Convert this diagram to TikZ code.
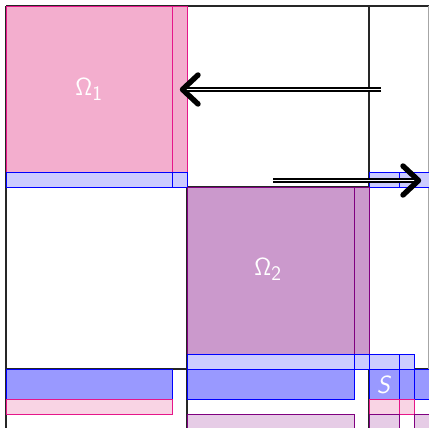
\documentclass[tikz,border=0pt]{standalone}
\definecolor{pinkfill}{HTML}{F3AECE}
\definecolor{pinkline}{HTML}{E6168A}
\definecolor{pinklight}{HTML}{F9D4E4}
\definecolor{purplefill}{HTML}{CB99CC}
\definecolor{purpleline}{HTML}{800080}
\definecolor{purplelight}{HTML}{E6CCE6}
\definecolor{bluelight}{HTML}{CCCCFF}
\definecolor{bluedark}{HTML}{9999FF}
\definecolor{blueline}{HTML}{0000FF}
\tikzset{
  gridline/.style={line width=1.2pt, draw=black!85},
  edgeline/.style={line width=0.8pt, draw=black!35},
  pinkbox/.style={fill=pinkfill, draw=pinkline, line width=0.9pt},
  pinkedge/.style={draw=pinkline, line width=0.9pt},
  pinkstrip/.style={fill=pinklight, draw=pinkline, line width=0.9pt},
  purplebox/.style={fill=purplefill, draw=purpleline, line width=0.9pt},
  purpleedge/.style={draw=purpleline, line width=0.9pt},
  purplestrip/.style={fill=purplelight, draw=purpleline, line width=0.9pt},
  lightstrip/.style={fill=bluelight, draw=blueline, line width=0.9pt},
  darkstrip/.style={fill=bluedark, draw=blueline, line width=0.9pt},
  lbl/.style={text=white, inner sep=0pt, font=\Huge},
  dbl/.style={draw=black, line width=1.2pt, double=white, double distance=1.8pt},
  head/.style={draw=black, line width=5.4pt, line cap=round, line join=round},
}
\begin{document}
\begin{tikzpicture}[x=1pt,y=-1pt]
\useasboundingbox (0,0) rectangle (429,428);
\clip (0,0) rectangle (429,428);

% block grid
\draw[gridline] (6,6) -- (6,440) (187,6) -- (187,440) (369,6) -- (369,440)
                (6,6) -- (440,6) (6,187) -- (440,187) (6,369) -- (440,369);
\draw[edgeline] (428.3,6) -- (428.3,369);

% first subdomain with its overlap strips
\draw[pinkbox] (6,6) rectangle (187,172);
\draw[pinkedge] (172,6) -- (172,172);
\draw[lightstrip] (6,172) rectangle (172,187);
\draw[lightstrip] (172,172) rectangle (187,187);
\draw[lightstrip] (369,172) rectangle (399,187);
\draw[lightstrip] (399,172) rectangle (440,187);

% second subdomain with its overlap strips
\draw[purplebox] (187,187) rectangle (369,354);
\draw[purpleedge] (354,187) -- (354,354);
\draw[lightstrip] (187,354) rectangle (354,369);
\draw[lightstrip] (354,354) rectangle (369,369);
\draw[lightstrip] (369,354) rectangle (399,369);
\draw[lightstrip] (399,354) rectangle (414,369);

% interface rows
\draw[darkstrip] (6,369) rectangle (172,399);
\draw[darkstrip] (187,369) rectangle (354,399);
\draw[darkstrip] (369,369) rectangle (399,399);
\draw[darkstrip] (399,369) rectangle (414,399);
\draw[darkstrip] (414,369) rectangle (440,399);

\draw[pinkstrip] (6,399) rectangle (172,414);
\draw[pinkstrip] (369,399) rectangle (399,414);
\draw[pinkstrip] (399,399) rectangle (414,414);

\draw[purplestrip] (187,414) rectangle (354,440);
\draw[purplestrip] (369,414) rectangle (399,440);
\draw[purplestrip] (414,414) rectangle (440,440);

% labels
\node[lbl] (om1) at (89,89) {$\mathsf{\Omega_1}$};
\node[lbl] (om2) at (268,269) {$\mathsf{\Omega_2}$};
\node[lbl] (sch) at (384,385) {\textsf{\textit{S}}};

% exchange arrows
\coordinate (a1s) at (381,89.5);
\coordinate (a1e) at (185,89.5);
\coordinate (a1t) at (182.5,89.5);
\draw[dbl] (a1s) -- (a1e);
\draw[head] ([shift={(15.5,-14.5)}]a1t) -- (a1t) -- ([shift={(15.5,14.5)}]a1t);

\coordinate (a2s) at (273,180.5);
\coordinate (a2e) at (416,180.5);
\coordinate (a2t) at (418.5,180.5);
\draw[dbl] (a2s) -- (a2e);
\draw[head] ([shift={(-15.5,-14.5)}]a2t) -- (a2t) -- ([shift={(-15.5,14.5)}]a2t);
\end{tikzpicture}
\end{document}
